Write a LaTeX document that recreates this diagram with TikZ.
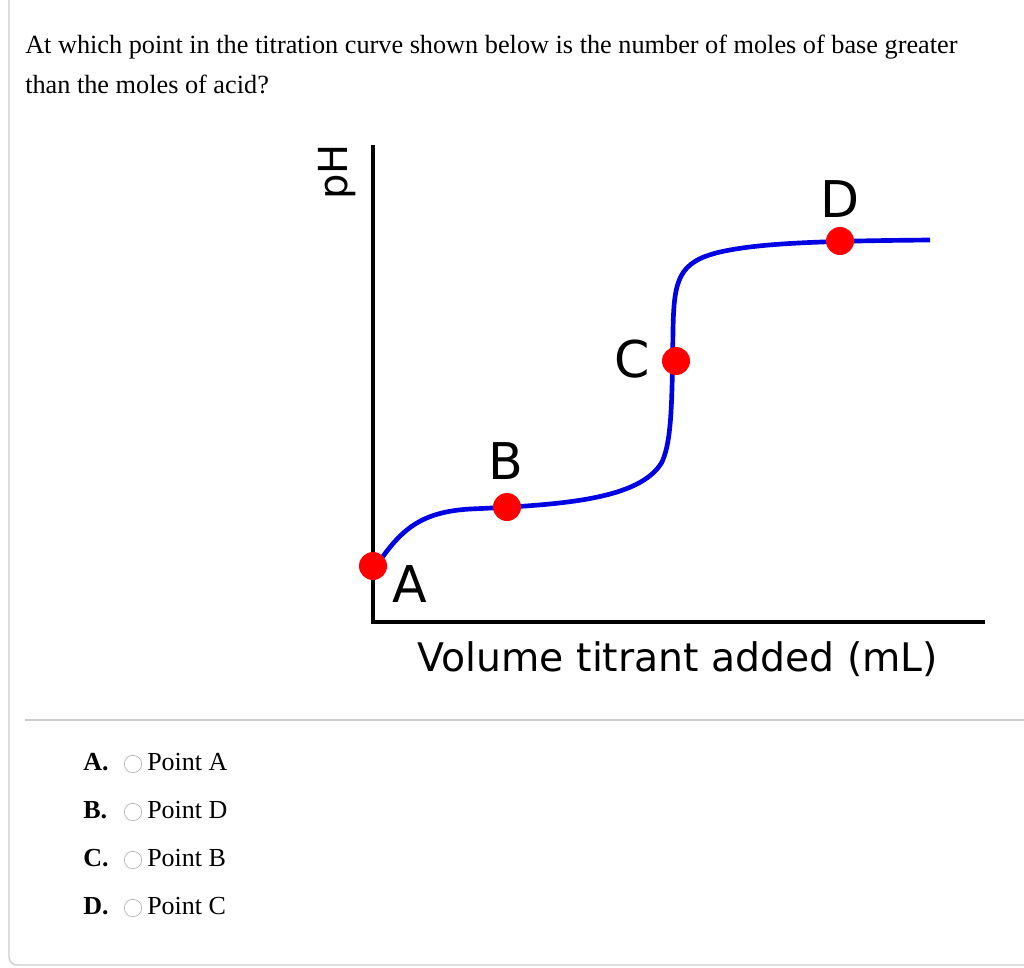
\documentclass[tikz,border=0pt]{standalone}
\usepackage{fontspec}
\setmainfont{Liberation Serif}
\newfontfamily\dv{DejaVu Sans}
\begin{document}
\begin{tikzpicture}[x=0.75pt,y=-0.75pt,
  q/.style={anchor=base west,font=\fontsize{19.7}{22}\selectfont,inner sep=0},
  lab/.style={font=\dv\fontsize{38}{44}\selectfont,inner sep=0},
  dot/.style={circle,fill=red,minimum size=21pt,inner sep=0},
  opt/.style={anchor=base west,font=\fontsize{19.5}{22}\selectfont,inner sep=0},
  rad/.style={circle,draw=gray!70,minimum size=13pt,inner sep=0}]
\useasboundingbox (0,0) rectangle (1024,967);
\draw[gray!40,line width=1pt,rounded corners=6pt] (9,-20) -- (9,965) -- (1040,965);
\draw[gray!40,line width=1pt] (25,720) -- (1024,720);
\node[q] (l1) at (25,53) {At which point in the titration curve shown below is the number of moles of base greater};
\node[q] (l2) at (25,93) {than the moles of acid?};
% axes
\coordinate (o) at (373,622);
\coordinate (yt) at (373,145);
\coordinate (xr) at (985,622);
\draw[line width=3.5pt] (yt) -- (o) -- (xr);
\node[font=\dv\fontsize{30}{34}\selectfont,rotate=90,inner sep=0] (ph) at (337,172) {pH};
\node[font=\dv\fontsize{29.5}{34}\selectfont,inner sep=0] (xl) at (678,659) {Volume titrant added (mL)};
% curve
\draw[blue!90!black,line width=3.5pt] (375,568) .. controls (400,530) and (420,512) .. (470,509)
  .. controls (560,505) and (640,500) .. (662,462)
  .. controls (672,440) and (672,400) .. (673,330)
  .. controls (674,280) and (678,262) .. (720,252)
  .. controls (760,243) and (820,241) .. (930,240);
\node[dot] (A) at (373,566) {};
\node[dot] (B) at (507,507) {};
\node[dot] (C) at (676,361) {};
\node[dot] (D) at (840,241) {};
\node[lab] (tA) at (410,584) {A};
\node[lab] (tB) at (506,461) {B};
\node[lab] (tC) at (632,359) {C};
\node[lab] (tD) at (840,199) {D};
% options
\foreach \y/\l/\t [count=\i] in {770/A./Point A,818/B./Point D,866/C./Point B,914/D./Point C}{
  \node[opt,font=\bfseries\fontsize{19.5}{22}\selectfont] (o\i) at (83,\y) {\l};
  \node[rad] (r\i) at (133,\y-6) {};
  \node[opt] (p\i) at (147,\y) {\t};
}
\end{tikzpicture}
\end{document}
